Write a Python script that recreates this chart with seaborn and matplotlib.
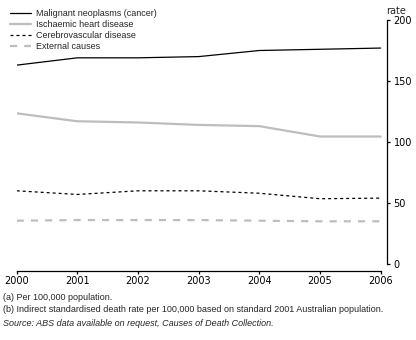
import matplotlib
matplotlib.use("Agg")
import matplotlib.pyplot as plt
import seaborn as sns
import pandas as pd

years = [2000, 2001, 2002, 2003, 2004, 2005, 2006]
cancer = [163, 169, 169, 170, 175, 176, 177]
ischaemic = [123.5, 117, 116, 114, 113, 104.5, 104.5]
cerebro = [60, 57, 60, 60, 58, 53.5, 54]
external = [35.5, 36, 36, 36, 35.5, 35, 35]
series_names = ["Malignant neoplasms (cancer)", "Ischaemic heart disease",
                "Cerebrovascular disease", "External causes"]
yticks = [0, 50, 100, 150, 200]

df = pd.DataFrame({"year": years * 4,
                   "rate": cancer + ischaemic + cerebro + external,
                   "series": sum([[n] * len(years) for n in series_names], [])})

sns.set_style("white")
plt.rcParams["font.family"] = ["Liberation Sans Narrow", "Liberation Sans", "DejaVu Sans"]

fig = plt.figure(figsize=(4.16, 3.40), dpi=100)
ax = fig.add_axes([16.7 / 416, 1 - 264 / 340, (387 - 16.7) / 416, (264 - 20) / 340])

palette = {series_names[0]: "black", series_names[1]: "#bdbdbd",
           series_names[2]: "black", series_names[3]: "#bdbdbd"}
widths = {series_names[0]: 0.9, series_names[1]: 1.6,
          series_names[2]: 0.9, series_names[3]: 1.6}
dashes = {series_names[0]: None, series_names[1]: None,
          series_names[2]: (2.4, 2.4), series_names[3]: (3.2, 3.2)}

for name in series_names:
    sub = df[df["series"] == name]
    sns.lineplot(data=sub, x="year", y="rate", ax=ax, color=palette[name],
                 lw=widths[name], label=name)
    ln = ax.lines[-1]
    if dashes[name] is not None:
        ln.set_dashes(dashes[name])

ax.set_xlim(2000, 2006 + 6 * (387 - 380.7) / (380.7 - 16.7))
ax.set_ylim(0, 200)
ax.set_xticks(years, labels=[str(y) for y in years])
ax.set_yticks(yticks, labels=[str(t) for t in yticks])
ax.yaxis.tick_right()
ax.set_xlabel("")
ax.set_ylabel("")
for s in ["top", "left"]:
    ax.spines[s].set_visible(False)
ax.spines["right"].set_color("black")
ax.spines["right"].set_linewidth(0.9)
ax.spines["bottom"].set_color("black")
ax.spines["bottom"].set_linewidth(0.9)
ax.spines["bottom"].set_position(("outward", 5))
ax.spines["bottom"].set_bounds(2000, 2006)
ax.tick_params(axis="both", which="both", direction="out", length=2.2, width=0.9,
               color="black", labelcolor="black", pad=1.5, labelsize=7,
               labelfontfamily="DejaVu Sans")
ax.tick_params(axis="y", right=True, left=False, pad=2.5)
ax.tick_params(axis="x", bottom=True)

leg = ax.legend(loc="upper left", bbox_to_anchor=(-0.027, 1.06), frameon=False,
                fontsize=6.5, handlelength=2.3, handletextpad=0.5,
                labelspacing=0.22, borderaxespad=0)

fig.text(396 / 416, 1 - 11 / 340, "rate", fontsize=7, ha="center", va="center",
         family="DejaVu Sans")
fig.text(3 / 416, 1 - 297 / 340, "(a) Per 100,000 population.", fontsize=6.5, va="center")
fig.text(3 / 416, 1 - 310 / 340,
         "(b) Indirect standardised death rate per 100,000 based on standard 2001 Australian population.",
         fontsize=6.5, va="center")
fig.text(3 / 416, 1 - 324 / 340,
         "Source: ABS data available on request, Causes of Death Collection.",
         fontsize=6.5, va="center", style="italic")

fig.savefig("out.png", dpi=100)
